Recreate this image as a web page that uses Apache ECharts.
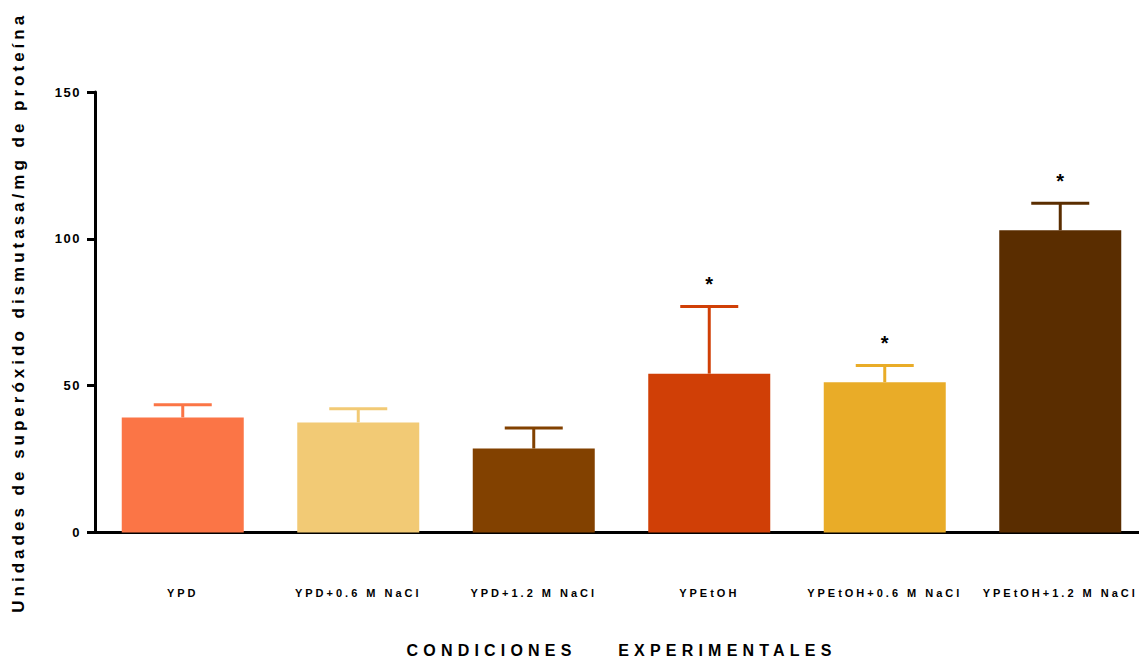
<!DOCTYPE html>
<html>
<head>
<meta charset="utf-8">
<script src="https://cdn.jsdelivr.net/npm/echarts@6/dist/echarts.min.js"></script>
<style>
  html, body { margin: 0; padding: 0; background: #fff; }
  #chart { width: 1139px; height: 659px; }
</style>
</head>
<body>
<div id="chart"></div>
<script>
// Superoxide dismutase activity per condition (mean and upper error bound)
const categories = ['YPD', 'YPD+0.6 M NaCl', 'YPD+1.2 M NaCl', 'YPEtOH', 'YPEtOH+0.6 M NaCl', 'YPEtOH+1.2 M NaCl'];
const means = [39.2, 37.5, 28.6, 54.1, 51.2, 102.9];
const upperBounds = [43.5, 42.1, 35.6, 77.0, 56.9, 112.1];
const significant = [false, false, false, true, true, true];
const barColors = ['#FB7546', '#F2CA75', '#824100', '#D03F06', '#E9AC28', '#5A2D00'];
const yMin = 0, yMax = 150, yStep = 50;
const yTitle = 'Unidades de superóxido dismutasa/mg de proteína';
const xTitle = 'CONDICIONES EXPERIMENTALES';

const BOLD_FONT = '"Liberation Sans", Arial, sans-serif';

const chart = echarts.init(document.getElementById('chart'), null, { renderer: 'svg' });

const option = {
  animation: false,
  backgroundColor: '#fff',
  grid: { left: 95, top: 92, right: -9, bottom: 126.5, containLabel: false, outerBoundsMode: 'none' },
  xAxis: {
    type: 'category',
    data: categories,
    name: xTitle,
    nameLocation: 'middle',
    nameGap: 111,
    nameTextStyle: { fontFamily: BOLD_FONT, fontWeight: 'bold', fontSize: 16, lineHeight: 14, color: '#000' },
    axisLine: { lineStyle: { color: '#000', width: 3 } },
    axisTick: { alignWithLabel: true, length: 10, lineStyle: { color: '#000', width: 3 } },
    axisLabel: { margin: 55, fontFamily: BOLD_FONT, fontWeight: 'bold', fontSize: 11, color: '#000', interval: 0 }
  },
  yAxis: {
    type: 'value',
    min: yMin, max: yMax, interval: yStep,
    name: yTitle,
    nameLocation: 'middle',
    nameRotate: 90,
    nameGap: 68,
    nameTextStyle: { fontFamily: BOLD_FONT, fontWeight: 'bold', fontSize: 17, color: '#000' },
    axisLine: { show: true, lineStyle: { color: '#000', width: 3 } },
    axisTick: { show: true, length: 8, lineStyle: { color: '#000', width: 3 } },
    axisLabel: { margin: 14, fontFamily: BOLD_FONT, fontWeight: 'bold', fontSize: 13, color: '#000' },
    splitLine: { show: false }
  },
  series: [
    {
      type: 'bar',
      barWidth: 122,
      data: means.map((v, i) => ({ value: v, itemStyle: { color: barColors[i] } }))
    },
    {
      type: 'custom',
      encode: { x: 0, y: [1, 2] },
      data: categories.map((c, i) => [i, means[i], upperBounds[i]]),
      z: 5,
      renderItem(params, api) {
        const i = api.value(0);
        const base = api.coord([i, api.value(1)]);
        const top = api.coord([i, api.value(2)]);
        const half = 29;
        const color = barColors[i];
        const children = [
          { type: 'line', shape: { x1: base[0], y1: base[1], x2: top[0], y2: top[1] }, style: { stroke: color, lineWidth: 3 } },
          { type: 'line', shape: { x1: top[0] - half, y1: top[1], x2: top[0] + half, y2: top[1] }, style: { stroke: color, lineWidth: 3 } }
        ];
        if (significant[i]) {
          children.push({
            type: 'text', x: top[0], y: top[1] - 22,
            style: { text: '*', fill: '#000', font: 'bold 20px ' + BOLD_FONT, align: 'center', verticalAlign: 'middle' }
          });
        }
        return { type: 'group', children };
      }
    }
  ]
};

chart.setOption(option);

// Wide tracking for the axis texts
function applySpacing() {
  const yTickSet = new Set(['0', '50', '100', '150']);
  document.querySelectorAll('#chart svg text').forEach(t => {
    const s = t.textContent;
    if (yTickSet.has(s)) t.setAttribute('letter-spacing', '1.5px');
    else if (categories.includes(s)) t.setAttribute('letter-spacing', '3px');
    else if (s === yTitle) t.setAttribute('letter-spacing', '4px');
    else if (s === xTitle) { t.setAttribute('letter-spacing', '5.2px'); t.setAttribute('word-spacing', '32px'); }
  });
}
chart.on('finished', applySpacing);
setTimeout(applySpacing, 0);
</script>
</body>
</html>
